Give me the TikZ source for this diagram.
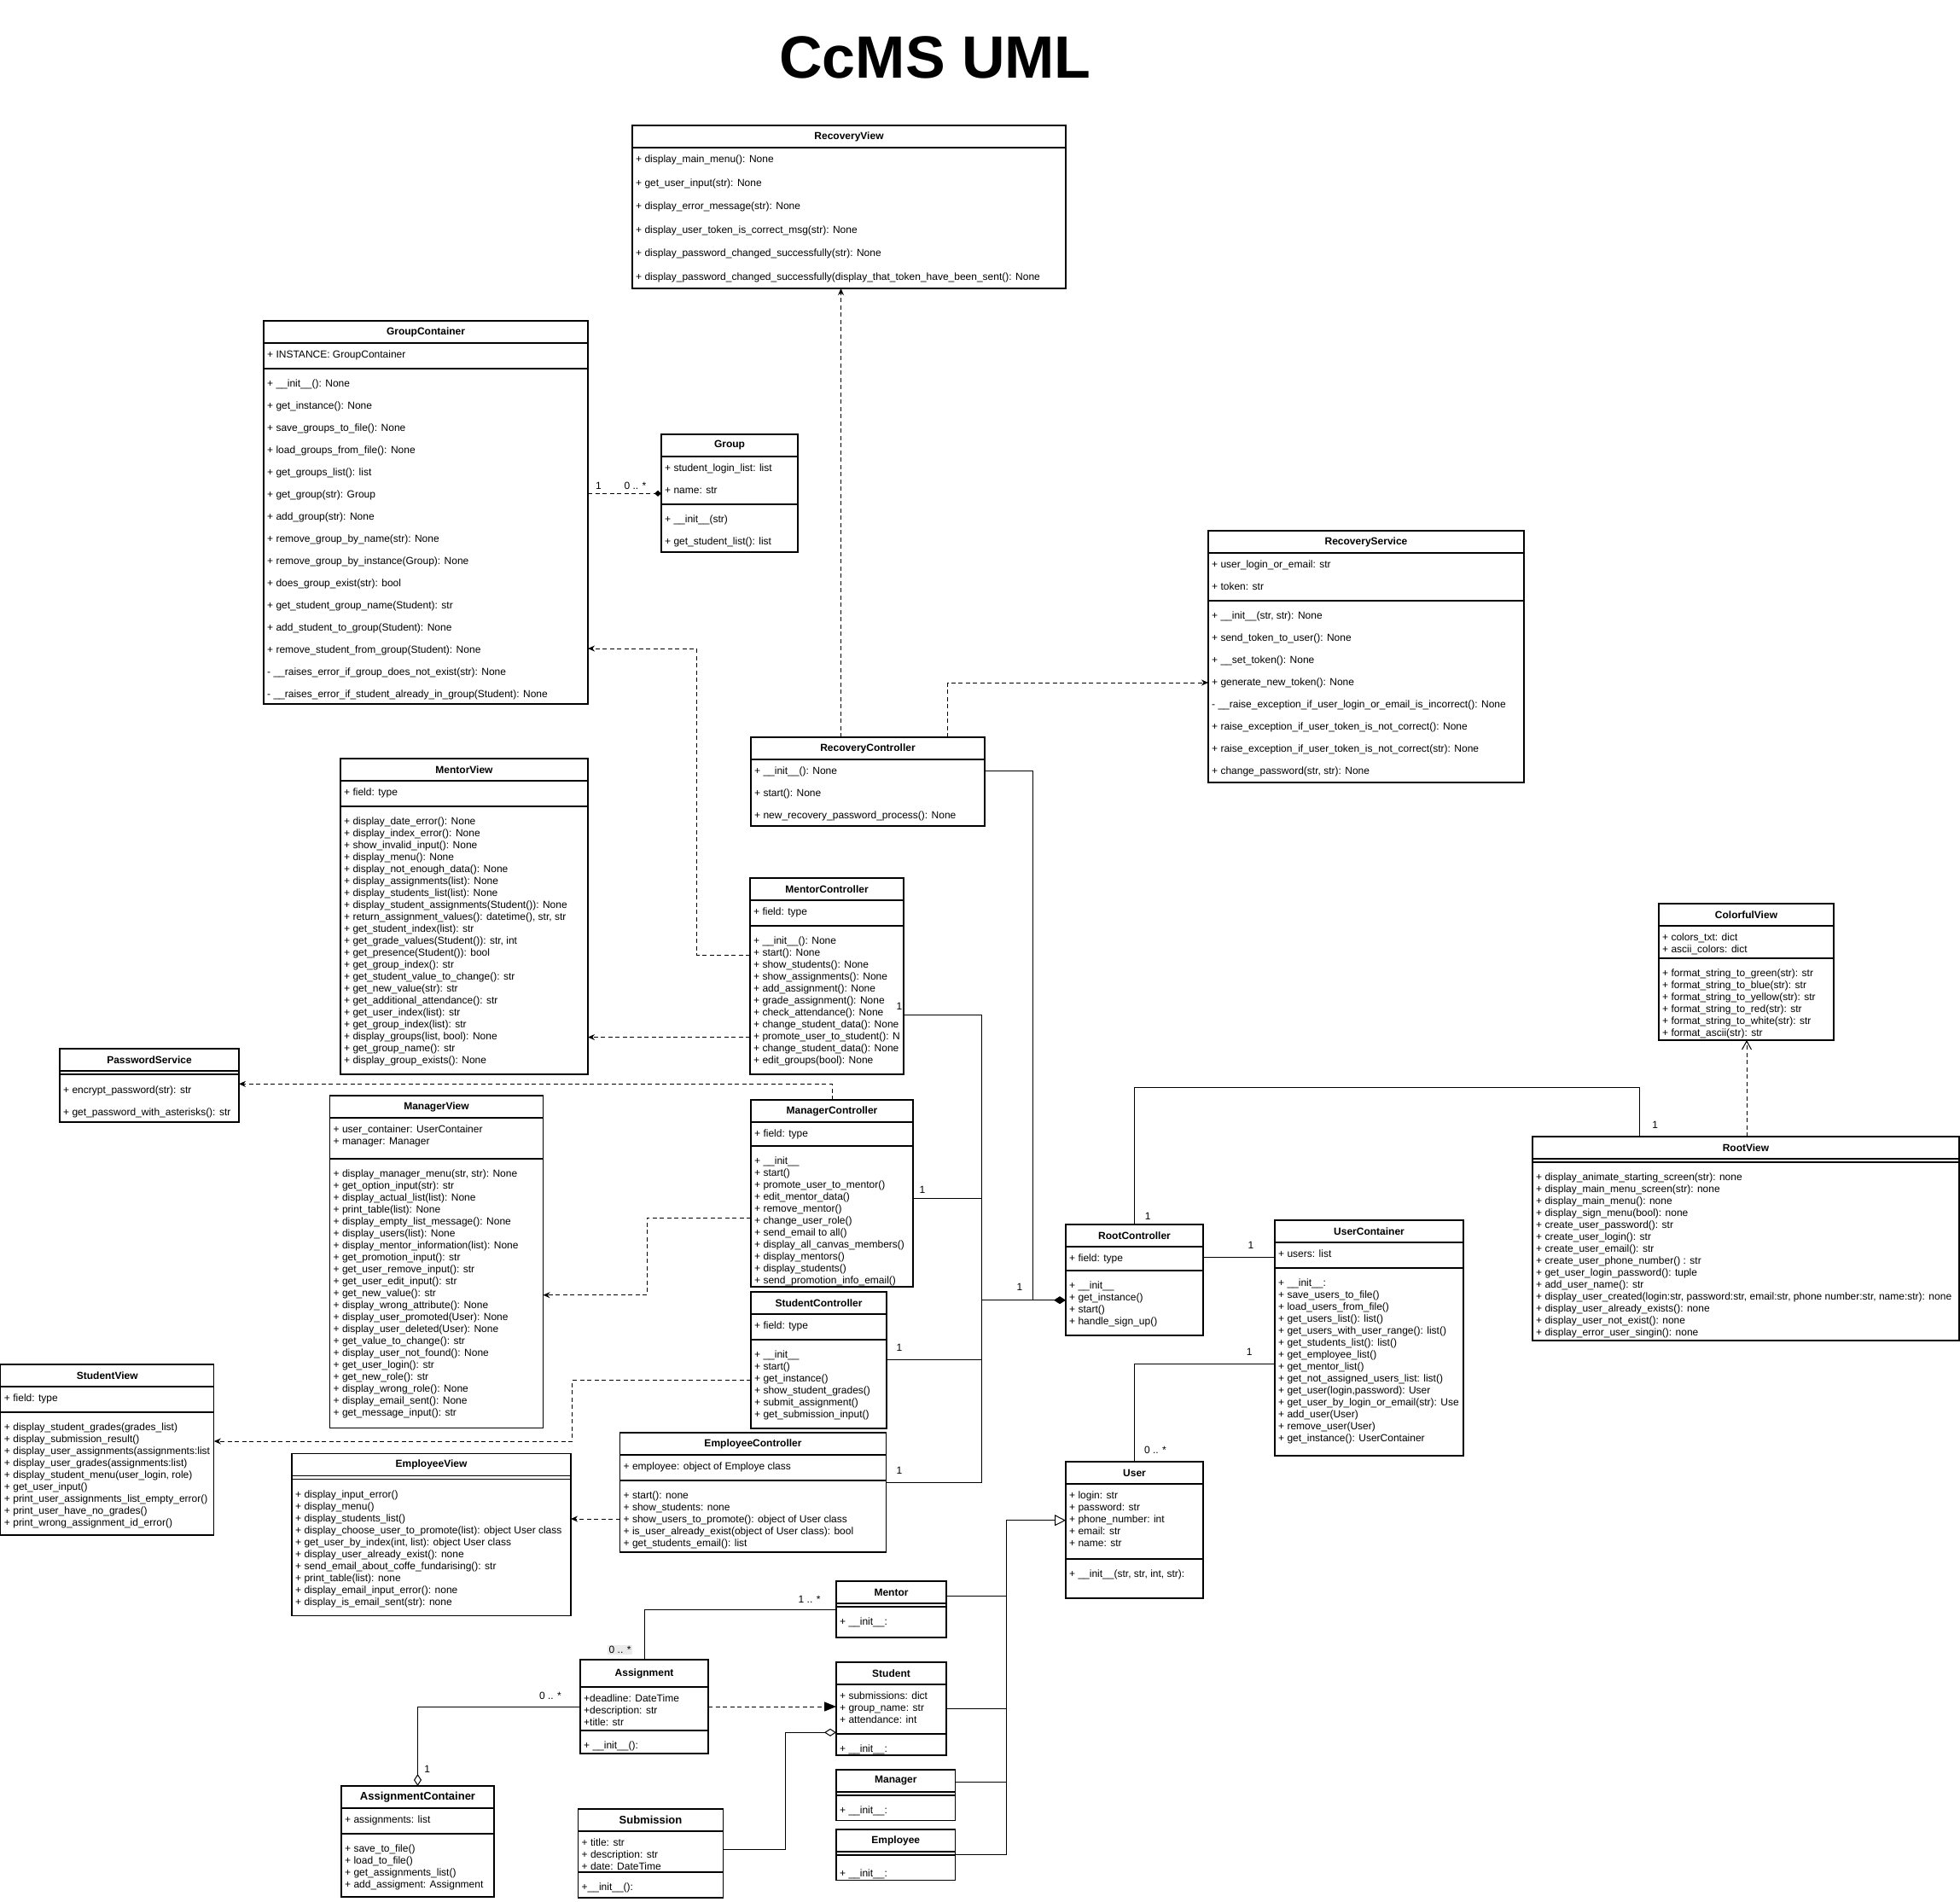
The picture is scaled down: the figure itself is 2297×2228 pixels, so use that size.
\documentclass[tikz,border=0pt]{standalone}
\usepackage{fontspec}
\setmainfont{Liberation Sans}
\usetikzlibrary{arrows.meta,calc}

\pgfkeys{/uml/.cd, head/.initial=26, skip/.initial=14, aoff/.initial=17.5, moff/.initial=21.5}

% [options]{id}{(x,y)}{width}{attribute height}{height}{title}{attributes}{methods}
\newcommand{\umlclass}[9][]{%
  \pgfkeys{/uml/.cd, head=26, skip=14, aoff=17.5, moff=21.5, #1}%
  \edef\umlhead{\pgfkeysvalueof{/uml/head}}%
  \edef\umlskip{\pgfkeysvalueof{/uml/skip}}%
  \node[classbox, minimum width=#4pt, minimum height=#6pt] (#2) at #3 {};
  \node[classname] (#2-t) at ($(#2.north)+(0,\umlhead/2)$) {#7};
  \draw[classline] ($(#2.north west)+(0,\umlhead)$) -- ($(#2.north east)+(0,\umlhead)$);
  \draw[classline] ($(#2.north west)+(0,\umlhead+#5)$) -- ($(#2.north east)+(0,\umlhead+#5)$);
  \if\relax\detokenize{#8}\relax\else
    \node[members] (#2-a) at ($(#2.north west)+(4,\umlhead)$) {\rule{0pt}{\pgfkeysvalueof{/uml/aoff}pt}#8};
  \fi
  \node[members] (#2-m) at ($(#2.north west)+(4,\umlhead+#5)$) {\rule{0pt}{\pgfkeysvalueof{/uml/moff}pt}#9};
}

\begin{document}
\begin{tikzpicture}[x=1pt, y=-1pt,
    classbox/.style={draw, rectangle, line width=1.1pt, inner sep=0pt, outer sep=0pt, anchor=north west},
    classline/.style={line width=1.1pt},
    classname/.style={font=\bfseries\fontsize{12}{14}\selectfont, inner sep=0pt},
    members/.style={font=\fontsize{12}{\umlskip}\selectfont, align=left, inner sep=0pt, anchor=north west},
    mult/.style={font=\fontsize{12}{14}\selectfont, inner sep=0pt},
    assoc/.style={line width=1pt},
    dep/.style={line width=1pt, dash pattern=on 5pt off 3.5pt, -{Stealth[length=8pt,width=7pt]}}
]
\fill[white] (0,0) rectangle (2297,2228);
\useasboundingbox (0,0) rectangle (2297,2228);

\node[font=\bfseries\fontsize{70}{84}\selectfont, inner sep=0pt] (title) at (1096,67) {CcMS UML};

\umlclass[skip=27.5, moff=17.5]{rv}{(741,147)}{508}{0}{191}{RecoveryView}{}{+ display\_main\_menu(): None\\+ get\_user\_input(str): None\\+ display\_error\_message(str): None\\+ display\_user\_token\_is\_correct\_msg(str): None\\+ display\_password\_changed\_successfully(str): None\\+ display\_password\_changed\_successfully(display\_that\_token\_have\_been\_sent(): None}

\umlclass[skip=26]{gc}{(309,376)}{380}{30}{449}{GroupContainer}{+ INSTANCE: GroupContainer}{+ \_\_init\_\_(): None\\+ get\_instance(): None\\+ save\_groups\_to\_file(): None\\+ load\_groups\_from\_file(): None\\+ get\_groups\_list(): list\\+ get\_group(str): Group\\+ add\_group(str): None\\+ remove\_group\_by\_name(str): None\\+ remove\_group\_by\_instance(Group): None\\+ does\_group\_exist(str): bool\\+ get\_student\_group\_name(Student): str\\+ add\_student\_to\_group(Student): None\\+ remove\_student\_from\_group(Student): None\\- \_\_raises\_error\_if\_group\_does\_not\_exist(str): None\\- \_\_raises\_error\_if\_student\_already\_in\_group(Student): None}

\umlclass[skip=26]{grp}{(775,509)}{160}{56}{138}{Group}{+ student\_login\_list: list\\+ name: str}{+ \_\_init\_\_(str)\\+ get\_student\_list(): list}

\umlclass[skip=26]{rs}{(1416,622)}{370}{56}{295}{RecoveryService}{+ user\_login\_or\_email: str\\+ token: str}{+ \_\_init\_\_(str, str): None\\+ send\_token\_to\_user(): None\\+ \_\_set\_token(): None\\+ generate\_new\_token(): None\\- \_\_raise\_exception\_if\_user\_login\_or\_email\_is\_incorrect(): None\\+ raise\_exception\_if\_user\_token\_is\_not\_correct(): None\\+ raise\_exception\_if\_user\_token\_is\_not\_correct(str): None\\+ change\_password(str, str): None}

\umlclass[skip=26, moff=17.5]{rc}{(880,864)}{274}{0}{104}{RecoveryController}{}{+ \_\_init\_\_(): None\\+ start(): None\\+ new\_recovery\_password\_process(): None}

\umlclass{mv}{(399,889)}{290}{30}{370}{MentorView}{+ field: type}{+ display\_date\_error(): None\\+ display\_index\_error(): None\\+ show\_invalid\_input(): None\\+ display\_menu(): None\\+ display\_not\_enough\_data(): None\\+ display\_assignments(list): None\\+ display\_students\_list(list): None\\+ display\_student\_assignments(Student()): None\\+ return\_assignment\_values(): datetime(), str, str\\+ get\_student\_index(list): str\\+ get\_grade\_values(Student()): str, int\\+ get\_presence(Student()): bool\\+ get\_group\_index(): str\\+ get\_student\_value\_to\_change(): str\\+ get\_new\_value(str): str\\+ get\_additional\_attendance(): str\\+ get\_user\_index(list): str\\+ get\_group\_index(list): str\\+ display\_groups(list, bool): None\\+ get\_group\_name(): str\\+ display\_group\_exists(): None}

\umlclass{mc}{(879,1029)}{180}{30}{230}{MentorController}{+ field: type}{+ \_\_init\_\_(): None\\+ start(): None\\+ show\_students(): None\\+ show\_assignments(): None\\+ add\_assignment(): None\\+ grade\_assignment(): None\\+ check\_attendance(): None\\+ change\_student\_data(): None\\+ promote\_user\_to\_student(): N\\+ change\_student\_data(): None\\+ edit\_groups(bool): None}

\umlclass[skip=26, moff=22.5]{ps}{(70,1229)}{210}{4}{86}{PasswordService}{}{+ encrypt\_password(str): str\\+ get\_password\_with\_asterisks(): str}

\umlclass{mgv}{(386.5,1284)}{250}{48}{389.5}{ManagerView}{+ user\_container: UserContainer\\+ manager: Manager}{+ display\_manager\_menu(str, str): None\\+ get\_option\_input(str): str\\+ display\_actual\_list(list): None\\+ print\_table(list): None\\+ display\_empty\_list\_message(): None\\+ display\_users(list): None\\+ display\_mentor\_information(list): None\\+ get\_promotion\_input(): str\\+ get\_user\_remove\_input(): str\\+ get\_user\_edit\_input(): str\\+ get\_new\_value(): str\\+ display\_wrong\_attribute(): None\\+ display\_user\_promoted(User): None\\+ display\_user\_deleted(User): None\\+ get\_value\_to\_change(): str\\+ display\_user\_not\_found(): None\\+ get\_user\_login(): str\\+ get\_new\_role(): str\\+ display\_wrong\_role(): None\\+ display\_email\_sent(): None\\+ get\_message\_input(): str}

\umlclass{mgc}{(880,1289)}{190}{28}{219}{ManagerController}{+ field: type}{+ \_\_init\_\_\\+ start()\\+ promote\_user\_to\_mentor()\\+ edit\_mentor\_data()\\+ remove\_mentor()\\+ change\_user\_role()\\+ send\_email to all()\\+ display\_all\_canvas\_members()\\+ display\_mentors()\\+ display\_students()\\+ send\_promotion\_info\_email()}

\umlclass{sc}{(880,1514)}{159}{30}{160}{StudentController}{+ field: type}{+ \_\_init\_\_\\+ start()\\+ get\_instance()\\+ show\_student\_grades()\\+ submit\_assignment()\\+ get\_submission\_input()}

\umlclass{sv}{(0.8,1599)}{250}{30}{200}{StudentView}{+ field: type}{+ display\_student\_grades(grades\_list)\\+ display\_submission\_result()\\+ display\_user\_assignments(assignments:list\\+ display\_user\_grades(assignments:list)\\+ display\_student\_menu(user\_login, role)\\+ get\_user\_input()\\+ print\_user\_assignments\_list\_empty\_error()\\+ print\_user\_have\_no\_grades()\\+ print\_wrong\_assignment\_id\_error()}

\umlclass{ec}{(726.5,1679)}{312}{30}{140}{EmployeeController}{+ employee: object of Employe class}{+ start(): none\\+ show\_students: none\\+ show\_users\_to\_promote(): object of User class\\+ is\_user\_already\_exist(object of User class): bool\\+ get\_students\_email(): list}

\umlclass{evw}{(342,1703.5)}{327}{4}{190}{EmployeeView}{}{+ display\_input\_error()\\+ display\_menu()\\+ display\_students\_list()\\+ display\_choose\_user\_to\_promote(list): object User class\\+ get\_user\_by\_index(int, list): object User class\\+ display\_user\_already\_exist(): none\\+ send\_email\_about\_coffe\_fundarising(): str\\+ print\_table(list): none\\+ display\_email\_input\_error(): none\\+ display\_is\_email\_sent(str): none}

\umlclass{cv}{(1944,1059)}{205}{38}{160}{ColorfulView}{+ colors\_txt: dict\\+ ascii\_colors: dict}{+ format\_string\_to\_green(str): str\\+ format\_string\_to\_blue(str): str\\+ format\_string\_to\_yellow(str): str\\+ format\_string\_to\_red(str): str\\+ format\_string\_to\_white(str): str\\+ format\_ascii(str): str}

\umlclass{rtv}{(1796,1332)}{500}{4}{239}{RootView}{}{+ display\_animate\_starting\_screen(str): none\\+ display\_main\_menu\_screen(str): none\\+ display\_main\_menu(): none\\+ display\_sign\_menu(bool): none\\+ create\_user\_password(): str\\+ create\_user\_login(): str\\+ create\_user\_email(): str\\+ create\_user\_phone\_number() : str\\+ get\_user\_login\_password(): tuple\\+ add\_user\_name(): str\\+ display\_user\_created(login:str, password:str, email:str, phone number:str, name:str): none\\+ display\_user\_already\_exists(): none\\+ display\_user\_not\_exist(): none\\+ display\_error\_user\_singin(): none}

\umlclass{rtc}{(1249,1435)}{161}{28}{130}{RootController}{+ field: type}{+ \_\_init\_\_\\+ get\_instance()\\+ start()\\+ handle\_sign\_up()}

\umlclass{uc}{(1494,1430)}{221}{30}{276}{UserContainer}{+ users: list}{+ \_\_init\_\_:\\+ save\_users\_to\_file()\\+ load\_users\_from\_file()\\+ get\_users\_list(): list()\\+ get\_users\_with\_user\_range(): list()\\+ get\_students\_list(): list()\\+ get\_employee\_list()\\+ get\_mentor\_list()\\+ get\_not\_assigned\_users\_list: list()\\+ get\_user(login,password): User\\+ get\_user\_by\_login\_or\_email(str): Use\\+ add\_user(User)\\+ remove\_user(User)\\+ get\_instance(): UserContainer}

\umlclass{usr}{(1249,1713)}{161}{88}{160}{User}{+ login: str\\+ password: str\\+ phone\_number: int\\+ email: str\\+ name: str}{+ \_\_init\_\_(str, str, int, str):}

\umlclass{mnt}{(980,1853)}{129}{4}{66}{Mentor}{}{+ \_\_init\_\_:}
\umlclass{std}{(980,1948)}{129}{58}{109}{Student}{+ submissions: dict\\+ group\_name: str\\+ attendance: int}{+ \_\_init\_\_:}
\umlclass{mgr}{(980,2074)}{139.5}{4}{59.5}{Manager}{}{+ \_\_init\_\_:}
\umlclass[moff=25]{emp}{(980,2144)}{139.5}{4}{59.5}{Employee}{}{+ \_\_init\_\_:}

\umlclass[head=32]{asg}{(680,1945)}{150}{51}{110}{Assignment}{+deadline: DateTime\\+description: str\\+title: str}{+ \_\_init\_\_():}
\umlclass{sub}{(677.5,2120)}{170}{48}{104}{{\fontsize{13}{15}\selectfont Submission}}{+ title: str\\+ description: str\\+ date: DateTime}{+\_\_init\_\_():}
\umlclass{ac}{(400,2093)}{179}{30}{130}{{\fontsize{13}{15}\selectfont AssignmentContainer}}{+ assignments: list}{+ save\_to\_file()\\+ load\_to\_file()\\+ get\_assignments\_list()\\+ add\_assigment: Assignment}

\coordinate (c1) at (816.4,760);
\coordinate (c3) at (758.3,1517.7);
\coordinate (c4) at (670.7,1689);
\coordinate (c5) at (1921.7,1274.7);
\coordinate (c6) at (920.5,2030.3);
\coordinate (hub) at (1150.3,1523.7);
\coordinate (hubr) at (1210.3,1523.7);
\coordinate (trunk) at (1179.3,1781.7);

\draw[dep, -{Diamond[length=8pt,width=7pt]}] ($(gc.north east)+(0,202.3)$) coordinate (p) -- (p -| grp.west);
\draw[dep] ($(mc.north west)+(0,90.3)$) -| (c1) -- (c1 -| gc.east);
\draw[dep] ($(mc.north west)+(0,186.5)$) coordinate (p) -- (p -| mv.east);
\draw[dep] ($(rc.north west)+(105.5,0)$) coordinate (p) -- (p |- rv.south);
\draw[dep] ($(rc.north west)+(230.5,0)$) |- ($(rs.north west)+(0,178)$);
\draw[dep] ($(mgc.north west)+(95,0)$) |- ($(ps.north east)+(0,41.3)$);
\draw[dep] ($(mgc.north west)+(0,138)$) -| (c3) -- (c3 -| mgv.east);
\draw[dep] ($(sc.north west)+(0,103.5)$) -| (c4) -- (c4 -| sv.east);
\draw[dep] ($(ec.north west)+(0,101)$) coordinate (p) -- (p -| evw.east);
\draw[dep, -{Straight Barb[length=10pt,width=11pt]}] ($(rtv.north west)+(251,0)$) coordinate (p) -- (p |- cv.south);

\draw[assoc] ($(mc.north east)+(0,160.5)$) -| (hub);
\draw[assoc] ($(mgc.north east)+(0,115)$) -| (hub);
\draw[assoc] ($(sc.north east)+(0,79.5)$) -| (hub);
\draw[assoc] ($(ec.north east)+(0,58)$) -| (hub);
\draw[assoc] ($(rc.north east)+(0,39.5)$) -| (hubr);
\draw[assoc, -{Diamond[length=14pt,width=9pt]}] (hub) -- (hub -| rtc.west);

\draw[assoc] (rtc.north) |- (c5) -- (c5 |- rtv.north);
\draw[assoc] ($(rtc.north east)+(0,38.3)$) coordinate (p) -- (p -| uc.west);
\draw[assoc] ($(uc.north west)+(0,168.3)$) -| (usr.north);

\draw[assoc] ($(mnt.north east)+(0,17)$) -| (trunk);
\draw[assoc] (std.east) -| (trunk);
\draw[assoc] ($(mgr.north east)+(0,14.5)$) -| (trunk);
\draw[assoc] (emp.east) -| (trunk);
\draw[assoc, -{Triangle[open,length=13pt,width=13pt]}] (trunk) -- (trunk -| usr.west);

\draw[assoc] (asg.north) |- (mnt.west);
\draw[assoc, -{Diamond[open,length=14pt,width=9pt]}] (asg.west) -| (ac.north);
\draw[dep, -{Triangle[length=14pt,width=11pt]}] (asg.east) -- (asg.east -| std.west);
\draw[assoc, -{Diamond[open,length=14pt,width=9pt]}] ($(sub.north east)+(0,47.3)$) -| (c6) -- (c6 -| std.west);

\node[mult] (l1) at (701.5,569) {1};
\node[mult] (l2) at (744.5,569) {0 .. *};
\node[mult] (l3) at (1054,1179) {1};
\node[mult] (l4) at (1081,1394) {1};
\node[mult] (l5) at (1054,1579) {1};
\node[mult] (l6) at (1054,1723) {1};
\node[mult] (l7) at (1195,1508) {1};
\node[mult] (l8) at (1345.3,1425.7) {1};
\node[mult] (l9) at (1939.7,1318.3) {1};
\node[mult] (l10) at (1466,1459.7) {1};
\node[mult] (l11) at (1464.3,1584.7) {1};
\node[mult] (l12) at (1354,1699.3) {0 .. *};
\node[mult, fill=black!8, inner sep=1.5pt] (l13) at (726.6,1933.3) {0 .. *};
\node[mult] (l14) at (948.6,1874.3) {1 .. *};
\node[mult] (l15) at (645,1987.7) {0 .. *};
\node[mult] (l16) at (500.6,2073.7) {1};
\end{tikzpicture}
\end{document}
